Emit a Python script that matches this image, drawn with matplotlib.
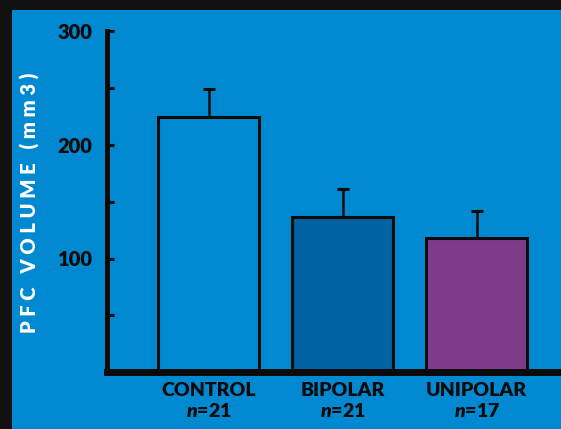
import matplotlib
matplotlib.use("Agg")
import matplotlib.pyplot as plt
from matplotlib.patches import Rectangle

plt.rcParams['font.family'] = ['Lato', 'DejaVu Sans']
plt.rcParams['font.weight'] = 'heavy'
plt.rcParams['mathtext.fontset'] = 'custom'
plt.rcParams['mathtext.it'] = 'Lato:italic:heavy'
plt.rcParams['mathtext.rm'] = 'Lato:heavy'

groups = ['CONTROL', 'BIPOLAR', 'UNIPOLAR']
counts = [21, 21, 17]
volume = [225, 137, 118]
err = [24, 24, 24]
yticks = [100, 200, 300]

bg = '#0089d1'
fills = [bg, '#0062a0', '#7e3a8b']
ink = '#0a0a0a'

fig = plt.figure(figsize=(5.61, 4.29), dpi=100)
fig.patch.set_facecolor(bg)

# dark frame along the top and left edges
fig.patches.append(Rectangle((0, 1 - 10 / 429), 1, 10 / 429, transform=fig.transFigure,
                             facecolor='#111111', edgecolor='none', zorder=5))
fig.patches.append(Rectangle((0, 0), 12 / 561, 1, transform=fig.transFigure,
                             facecolor='#111111', edgecolor='none', zorder=5))

ax = fig.add_axes([106.5 / 561, 1 - 372 / 429, 1 - 106.5 / 561, (372 - 31.5) / 429])
ax.set_facecolor(bg)

x = list(range(len(groups)))
ax.bar(x, volume, width=0.75, color=fills, edgecolor=ink, linewidth=2.2, zorder=2)
ax.errorbar(x, volume, yerr=[[0] * len(err), err], fmt='none', ecolor=ink,
            elinewidth=1.8, capsize=4, capthick=2.2, zorder=1)

ax.set_xlim(-0.763, 2.629)
ax.set_ylim(0, 300)

for s in ['top', 'right']:
    ax.spines[s].set_visible(False)
ax.spines['left'].set_linewidth(3.6)
ax.spines['bottom'].set_linewidth(5)
ax.spines['left'].set_color(ink)
ax.spines['bottom'].set_color(ink)
ax.spines['left'].set_bounds(0, 300)

ax.set_yticks(range(50, 301, 50))
ax.set_yticklabels(['' if v not in yticks else str(v) for v in range(50, 301, 50)])
ax.tick_params(axis='y', direction='in', length=5, width=2.2, color=ink,
               labelsize=14.5, labelcolor=ink, pad=10)

ax.set_xticks(x)
ax.set_xticklabels([f'{g}\n$n$=$\\mathrm{{{c}}}$' for g, c in zip(groups, counts)])
ax.tick_params(axis='x', length=0, labelsize=14, labelcolor=ink, pad=7)
for lab in ax.get_xticklabels():
    lab.set_linespacing(1.25)

fig.text(30 / 561, 1 - 203 / 429, 'P F C   V O L U M E   ( m m 3 )', rotation=90,
         ha='center', va='center', color='white', fontsize=14.5, fontweight='heavy')

fig.savefig('out.png', dpi=100, facecolor=bg)
